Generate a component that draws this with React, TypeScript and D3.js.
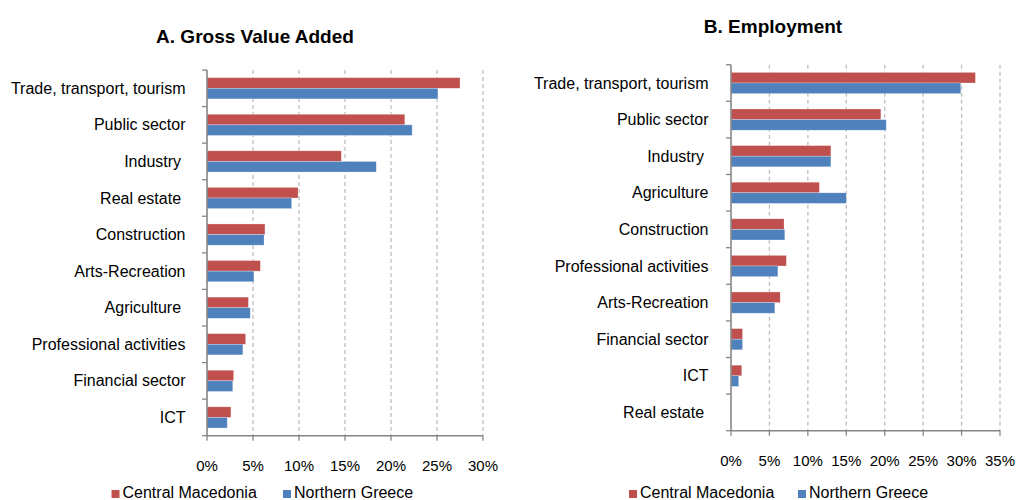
import React from "react";
import * as d3 from "d3";

const seriesNames = ["Central Macedonia", "Northern Greece"];
const seriesColors = ["#C0504D", "#4F81BD"];

const gvaCategories = [
  "Trade, transport, tourism",
  "Public sector",
  "Industry ",
  "Real estate ",
  "Construction",
  "Arts-Recreation",
  "Agriculture ",
  "Professional activities",
  "Financial sector",
  "ICT",
];
const gvaCentralMacedonia = [27.5, 21.5, 14.6, 9.9, 6.3, 5.8, 4.5, 4.2, 2.9, 2.6];
const gvaNorthernGreece = [25.1, 22.3, 18.4, 9.2, 6.2, 5.1, 4.7, 3.9, 2.8, 2.2];
const gvaTicks = [0, 5, 10, 15, 20, 25, 30];

const empCategories = [
  "Trade, transport, tourism",
  "Public sector",
  "Industry ",
  "Agriculture",
  "Construction",
  "Professional activities",
  "Arts-Recreation",
  "Financial sector",
  "ICT",
  "Real estate ",
];
const empCentralMacedonia = [31.8, 19.5, 13.0, 11.5, 6.9, 7.2, 6.4, 1.5, 1.4, 0];
const empNorthernGreece = [29.9, 20.2, 13.0, 15.0, 7.0, 6.1, 5.7, 1.5, 1.0, 0];
const empTicks = [0, 5, 10, 15, 20, 25, 30, 35];

const FONT = "'Liberation Sans', Arial, Helvetica, sans-serif";

type PanelProps = {
  title: string;
  titleX: number;
  titleY: number;
  categories: string[];
  values: number[][];
  ticks: number[];
  x0: number;
  x1: number;
  y0: number;
  y1: number;
  labelX: number;
  tickLabelY: number;
  legendX: number[];
  legendY: number;
};

function Panel(p: PanelProps) {
  const maxV = p.ticks[p.ticks.length - 1];
  const x = d3.scaleLinear().domain([0, maxV]).range([p.x0, p.x1]);
  const y = d3
    .scaleBand<string>()
    .domain(p.categories)
    .range([p.y0, p.y1])
    .paddingInner(0.42)
    .paddingOuter(0.21);
  const sub = d3
    .scaleBand<string>()
    .domain(seriesNames)
    .range([0, y.bandwidth()]);
  const step = y.step();
  const boundaries = d3.range(p.categories.length + 1).map((i) => p.y0 + i * step);

  return (
    <g>
      <text
        x={p.titleX}
        y={p.titleY}
        textAnchor="middle"
        fontFamily={FONT}
        fontWeight="bold"
        fontSize={19}
        fill="#000"
      >
        {p.title}
      </text>
      {p.ticks.slice(1).map((t) => (
        <line
          key={"g" + t}
          x1={x(t)}
          x2={x(t)}
          y1={p.y0}
          y2={p.y1}
          stroke="#BFBFBF"
          strokeWidth={1.3}
          strokeDasharray="4,3"
        />
      ))}
      {p.categories.map((c, i) =>
        seriesNames.map((s, j) => (
          <rect
            key={c + s}
            x={x(0)}
            y={(y(c) as number) + (sub(s) as number)}
            width={Math.max(0, x(p.values[j][i]) - x(0))}
            height={sub.bandwidth()}
            fill={seriesColors[j]}
            stroke="rgba(255,255,255,0.45)"
            strokeWidth={0.6}
          />
        ))
      )}
      <line x1={p.x0} x2={p.x0} y1={p.y0} y2={p.y1} stroke="#868686" strokeWidth={1.6} />
      <line x1={p.x0} x2={p.x1} y1={p.y1} y2={p.y1} stroke="#868686" strokeWidth={1.6} />
      {boundaries.map((b, i) => (
        <line key={"lt" + i} x1={p.x0 - 5} x2={p.x0} y1={b} y2={b} stroke="#868686" strokeWidth={1.3} />
      ))}
      {p.ticks.map((t) => (
        <line key={"bt" + t} x1={x(t)} x2={x(t)} y1={p.y1} y2={p.y1 + 5} stroke="#868686" strokeWidth={1.3} />
      ))}
      {p.categories.map((c) => (
        <text
          key={"l" + c}
          x={p.labelX}
          y={(y(c) as number) + y.bandwidth() / 2}
          dy="0.35em"
          textAnchor="end"
          fontFamily={FONT}
          fontSize={16}
          fill="#000"
          style={{ whiteSpace: "pre" }}
        >
          {c}
        </text>
      ))}
      {p.ticks.map((t) => (
        <text
          key={"tl" + t}
          x={x(t)}
          y={p.tickLabelY}
          textAnchor="middle"
          fontFamily={FONT}
          fontSize={15}
          fill="#000"
        >
          {t + "%"}
        </text>
      ))}
      {seriesNames.map((s, j) => (
        <g key={"lg" + s}>
          <rect x={p.legendX[j]} y={p.legendY - 8} width={8} height={8} fill={seriesColors[j]} />
          <text x={p.legendX[j] + 11} y={p.legendY} fontFamily={FONT} fontSize={16} fill="#000">
            {s}
          </text>
        </g>
      ))}
    </g>
  );
}

export default function App() {
  return (
    <svg
      width={1016}
      height={500}
      style={{ position: "absolute", left: 0, top: 0, background: "#fff" }}
    >
      <rect width={1016} height={500} fill="#fff" />
      <Panel
        title="A. Gross Value Added"
        titleX={255}
        titleY={43}
        categories={gvaCategories}
        values={[gvaCentralMacedonia, gvaNorthernGreece]}
        ticks={gvaTicks}
        x0={207}
        x1={483}
        y0={70}
        y1={435.7}
        labelX={185.5}
        tickLabelY={471}
        legendX={[111.5, 283]}
        legendY={498}
      />
      <Panel
        title="B. Employment"
        titleX={773}
        titleY={33}
        categories={empCategories}
        values={[empCentralMacedonia, empNorthernGreece]}
        ticks={empTicks}
        x0={731}
        x1={1000}
        y0={64.7}
        y1={430.7}
        labelX={708.5}
        tickLabelY={465.5}
        legendX={[629, 798]}
        legendY={498}
      />
    </svg>
  );
}
